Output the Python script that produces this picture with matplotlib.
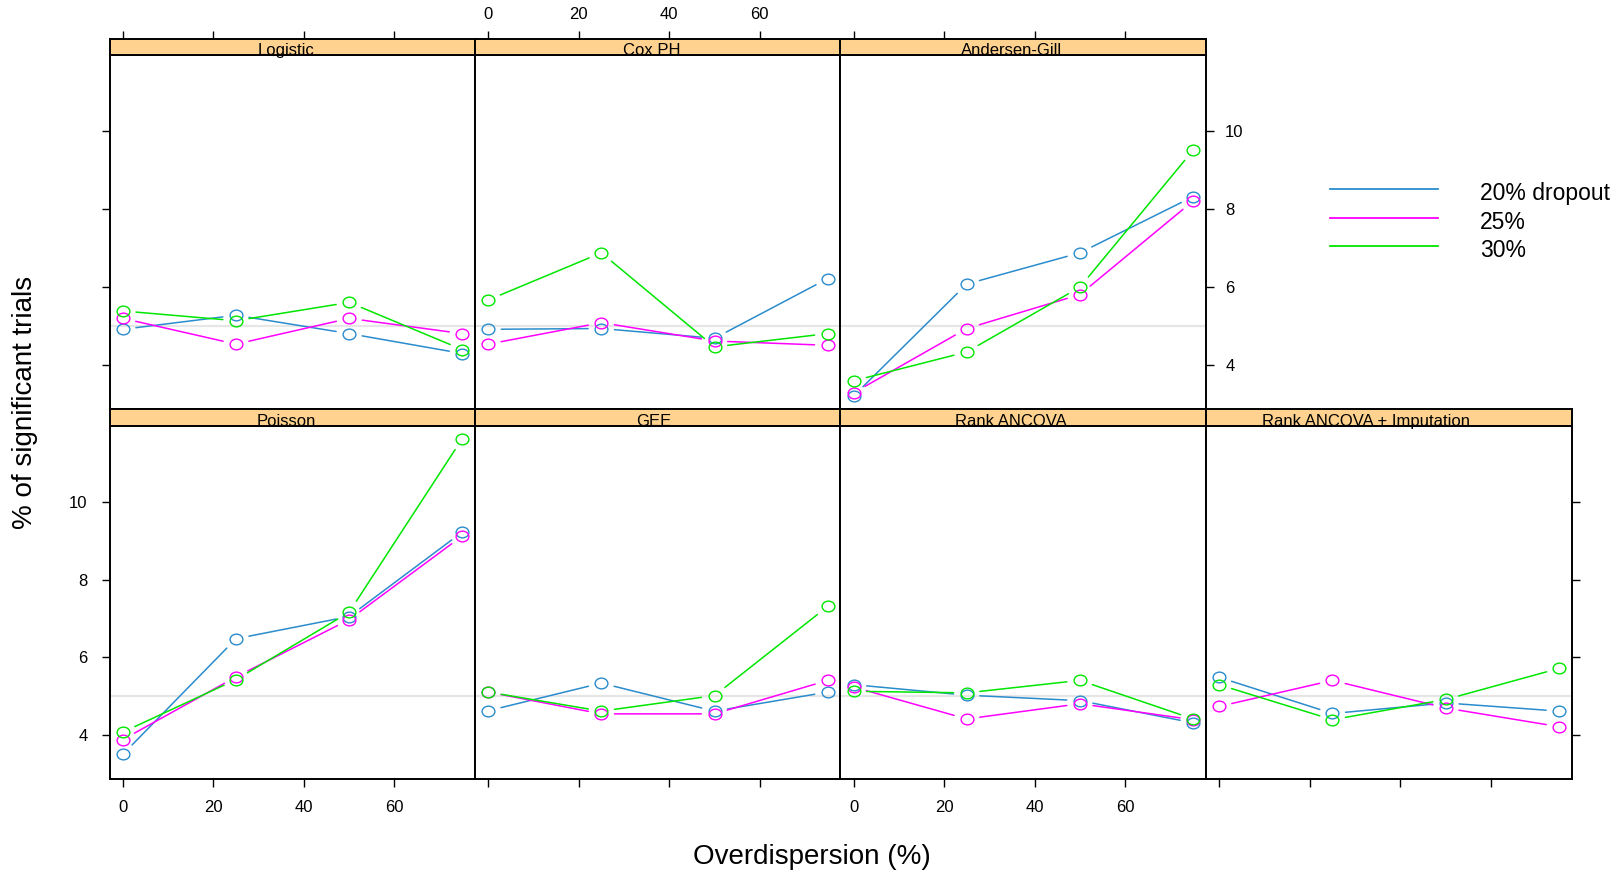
import numpy as np
import matplotlib
matplotlib.use("Agg")
import matplotlib.pyplot as plt
from matplotlib.path import Path
from matplotlib.lines import Line2D

plt.rcParams['font.family'] = ['Liberation Sans', 'DejaVu Sans']

# data
overdispersion = [0, 25, 50, 75]
dropout_labels = ['20% dropout', '25%', '30%']
line_colors = ['#2a8ccc', '#ff00ff', '#00e600']

logistic_20 = [4.92, 5.28, 4.81, 4.30]
logistic_25 = [5.20, 4.54, 5.20, 4.81]
logistic_30 = [5.39, 5.14, 5.61, 4.40]

coxph_20 = [4.92, 4.94, 4.69, 6.22]
coxph_25 = [4.54, 5.09, 4.62, 4.51]
coxph_30 = [5.67, 6.88, 4.47, 4.81]

andersen_20 = [3.21, 6.08, 6.88, 8.32]
andersen_25 = [3.29, 4.94, 5.81, 8.21]
andersen_30 = [3.60, 4.34, 6.00, 9.51]

poisson_20 = [3.51, 6.48, 7.05, 9.22]
poisson_25 = [3.89, 5.50, 6.97, 9.12]
poisson_30 = [4.08, 5.43, 7.16, 11.62]

gee_20 = [4.63, 5.34, 4.62, 5.11]
gee_25 = [5.11, 4.55, 4.55, 5.41]
gee_30 = [5.11, 4.62, 5.02, 7.31]

rank_20 = [5.30, 5.03, 4.89, 4.32]
rank_25 = [5.24, 4.42, 4.81, 4.40]
rank_30 = [5.13, 5.09, 5.41, 4.42]

rankimp_20 = [5.49, 4.56, 4.83, 4.62]
rankimp_25 = [4.74, 5.41, 4.70, 4.22]
rankimp_30 = [5.30, 4.40, 4.92, 5.72]

model_names = ['Logistic', 'Cox PH', 'Andersen-Gill', 'Poisson', 'GEE',
               'Rank ANCOVA', 'Rank ANCOVA + Imputation']
model_values = [
    [logistic_20, logistic_25, logistic_30],
    [coxph_20, coxph_25, coxph_30],
    [andersen_20, andersen_25, andersen_30],
    [poisson_20, poisson_25, poisson_30],
    [gee_20, gee_25, gee_30],
    [rank_20, rank_25, rank_30],
    [rankimp_20, rankimp_25, rankimp_30],
]
x_ticks = [0, 20, 40, 60]
y_ticks = [4, 6, 8, 10]
ref_level = 5

W, H = 1623, 875
fig = plt.figure(figsize=(W / 100, H / 100), dpi=100)
renderer = fig.canvas.get_renderer()

def frac(x0, y0, x1, y1):
    return [x0 / W, 1 - y1 / H, (x1 - x0) / W, (y1 - y0) / H]

col_x = [109.7, 475.0, 840.4, 1205.8, 1572.0]
# (strip top, panel top, panel bottom) for each row
row_y = [(39.0, 55.0, 409.3), (409.3, 425.7, 779.3)]
panel_pos = [(0, 0), (0, 1), (0, 2), (1, 0), (1, 1), (1, 2), (1, 3)]

# slightly flattened open circle, like the R device draws
circ = Path.unit_circle()
ell = Path(circ.vertices * np.array([1.0, 0.84]), circ.codes)

tick_kw = dict(direction='out', length=6, width=1.0, labelsize=12, colors='black')

for k, name in enumerate(model_names):
    r, c = panel_pos[k]
    st, pt, pb = row_y[r]
    ax = fig.add_axes(frac(col_x[c], pt, col_x[c + 1], pb))
    sax = fig.add_axes(frac(col_x[c], st, col_x[c + 1], pt))

    ax.set_xlim(-2.9, 77.8)
    ax.set_ylim(2.87, 11.95)
    ax.axhline(ref_level, color='#e6e6e6', lw=1.6, zorder=1)

    for vals, col in zip(model_values[k], line_colors):
        ax.plot(overdispersion, vals, ls='none', marker=ell, ms=9.2,
                mfc='none', mec=col, mew=1.0, zorder=3)
        for i in range(len(overdispersion) - 1):
            ax.annotate('', xy=(overdispersion[i + 1], vals[i + 1]),
                        xytext=(overdispersion[i], vals[i]),
                        arrowprops=dict(arrowstyle='-', color=col, lw=1.1,
                                        shrinkA=9.5, shrinkB=9.5), zorder=2)

    for sp in ax.spines.values():
        sp.set_linewidth(1.4)
    ax.set_xticks(x_ticks)
    ax.set_yticks(y_ticks)
    ax.tick_params(axis='both', which='both', left=False, right=False, top=False,
                   bottom=False, labelleft=False, labelright=False,
                   labeltop=False, labelbottom=False, **tick_kw)

    # strip
    sax.set_xlim(ax.get_xlim())
    sax.set_ylim(0, 1)
    sax.set_facecolor('#ffd28f')
    for sp in sax.spines.values():
        sp.set_linewidth(1.4)
    sax.set_yticks([])
    sax.set_xticks(x_ticks)
    sax.tick_params(axis='x', bottom=False, labelbottom=False, top=False,
                    labeltop=False, **tick_kw)
    t = sax.text(0.5, -0.02, name, transform=sax.transAxes, ha='left',
                 va='baseline', fontsize=12, clip_on=False, zorder=5)
    # R centres strip labels on a narrower width estimate -> text sits left
    tw = t.get_window_extent(renderer).width
    pw = sax.get_window_extent(renderer).width
    t.set_x(0.5 - 0.61 * tw / pw)

    if r == 0:
        sax.tick_params(axis='x', top=True, pad=6)
        if c == 1:
            sax.tick_params(axis='x', labeltop=True)
        if c == 0:
            ax.tick_params(axis='y', left=True)
        if c == 2:
            ax.tick_params(axis='y', right=True, labelright=True, pad=8)
    else:
        ax.tick_params(axis='x', bottom=True, pad=9)
        if c in (0, 2):
            ax.tick_params(axis='x', labelbottom=True)
        if c == 0:
            ax.tick_params(axis='y', left=True, labelleft=True, pad=10)
        if c == 3:
            ax.tick_params(axis='y', right=True)

# axis titles
fig.text(812 / W, 1 - 857 / H, 'Overdispersion (%)', ha='center', va='center',
         fontsize=20)
fig.text(25 / W, 1 - 402 / H, '% of significant trials', ha='center',
         va='center', rotation=90, fontsize=20)

# key
key_y = [189, 217.7, 246]
for lab, col, yy in zip(dropout_labels, line_colors, key_y):
    fig.add_artist(Line2D([1330 / W, 1438 / W], [1 - yy / H, 1 - yy / H],
                          color=col, lw=1.3, transform=fig.transFigure))
    fig.text(1480 / W, 1 - (yy + 4.5) / H, lab, ha='left', va='center',
             fontsize=16.5)

fig.savefig('out.png', dpi=100)
